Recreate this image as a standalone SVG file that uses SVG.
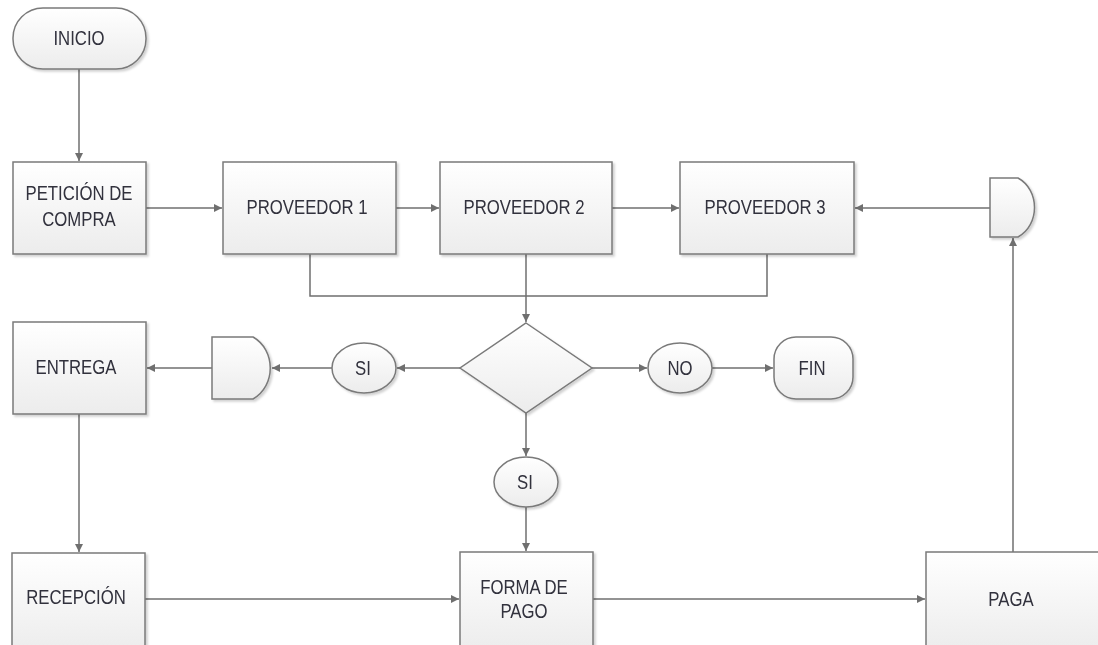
<svg xmlns="http://www.w3.org/2000/svg" width="1098" height="645" viewBox="0 0 1098 645">
<style>
.s{fill:url(#g);stroke:#7a7a7a;stroke-width:1.5}
.t{font-family:"Liberation Sans",Arial,sans-serif;font-size:19.5px;fill:#30303c;text-anchor:middle}
.c{fill:none;stroke:#6f6f6f;stroke-width:1.5}
</style>
<defs>
<linearGradient id="g" x1="0" y1="0" x2="0" y2="1">
<stop offset="0" stop-color="#ffffff"/>
<stop offset="1" stop-color="#ececec"/>
</linearGradient>
<marker id="a" viewBox="0 0 10 10" refX="10" refY="5" markerWidth="8" markerHeight="8" markerUnits="userSpaceOnUse" orient="auto">
<path d="M0,0 L10,5 L0,10 Z" fill="#6f6f6f"/>
</marker>
<filter id="sh" x="-10%" y="-10%" width="130%" height="130%">
<feDropShadow dx="2" dy="2" stdDeviation="1.2" flood-color="#000" flood-opacity="0.18"/>
</filter>
</defs>
<rect width="1098" height="645" fill="#ffffff"/>
<g id="connectors">
<path class="c" d="M79,69 V161" marker-end="url(#a)"/>
<path class="c" d="M146,208 H222" marker-end="url(#a)"/>
<path class="c" d="M396,208 H439" marker-end="url(#a)"/>
<path class="c" d="M612,208 H679" marker-end="url(#a)"/>
<path class="c" d="M990,208 H855" marker-end="url(#a)"/>
<path class="c" d="M310,254 V296 H767 V254"/>
<path class="c" d="M526,254 V322" marker-end="url(#a)"/>
<path class="c" d="M460,368 H397" marker-end="url(#a)"/>
<path class="c" d="M332,368 H272" marker-end="url(#a)"/>
<path class="c" d="M212,368 H147" marker-end="url(#a)"/>
<path class="c" d="M592,368 H647" marker-end="url(#a)"/>
<path class="c" d="M712,368 H773" marker-end="url(#a)"/>
<path class="c" d="M526,413 V456" marker-end="url(#a)"/>
<path class="c" d="M526,507 V551" marker-end="url(#a)"/>
<path class="c" d="M79,414 V552" marker-end="url(#a)"/>
<path class="c" d="M145,599 H459" marker-end="url(#a)"/>
<path class="c" d="M593,599 H925" marker-end="url(#a)"/>
<path class="c" d="M1013,552 V238" marker-end="url(#a)"/>
</g>
<g id="inicio" filter="url(#sh)">
<rect class="s" x="13" y="8" width="133" height="61" rx="30" ry="30"/>
<text class="t" transform="translate(79,45) scale(0.86,1)">INICIO</text>
</g>
<g id="peticion" filter="url(#sh)">
<rect class="s" x="13" y="162" width="133" height="92"/>
<text class="t" transform="translate(79,200) scale(0.86,1)">PETICIÓN DE</text>
<text class="t" transform="translate(79,226) scale(0.86,1)">COMPRA</text>
</g>
<g id="proveedor1" filter="url(#sh)">
<rect class="s" x="223" y="162" width="173" height="92"/>
<text class="t" transform="translate(307,214) scale(0.86,1)">PROVEEDOR 1</text>
</g>
<g id="proveedor2" filter="url(#sh)">
<rect class="s" x="440" y="162" width="172" height="92"/>
<text class="t" transform="translate(524,214) scale(0.86,1)">PROVEEDOR 2</text>
</g>
<g id="proveedor3" filter="url(#sh)">
<rect class="s" x="680" y="162" width="174" height="92"/>
<text class="t" transform="translate(765,214) scale(0.86,1)">PROVEEDOR 3</text>
</g>
<g id="gate-right" filter="url(#sh)">
<path class="s" d="M990,178 H1018 C1040,190 1040,225 1018,237 H990 Z"/>
</g>
<g id="decision" filter="url(#sh)">
<path class="s" d="M526,323 L592,368 L526,413 L460,368 Z"/>
</g>
<g id="si-left" filter="url(#sh)">
<ellipse class="s" cx="364" cy="368" rx="32" ry="25"/>
<text class="t" transform="translate(363,375) scale(0.86,1)">SI</text>
</g>
<g id="gate-left" filter="url(#sh)">
<path class="s" d="M212,337 H253 C276,350 276,386 253,399 H212 Z"/>
</g>
<g id="entrega" filter="url(#sh)">
<rect class="s" x="13" y="322" width="133" height="92"/>
<text class="t" transform="translate(76,374) scale(0.86,1)">ENTREGA</text>
</g>
<g id="no" filter="url(#sh)">
<ellipse class="s" cx="680" cy="368" rx="32" ry="25"/>
<text class="t" transform="translate(680,375) scale(0.86,1)">NO</text>
</g>
<g id="fin" filter="url(#sh)">
<rect class="s" x="774" y="337" width="79" height="62" rx="22" ry="22"/>
<text class="t" transform="translate(812,375) scale(0.86,1)">FIN</text>
</g>
<g id="si-bottom" filter="url(#sh)">
<ellipse class="s" cx="526" cy="482" rx="32" ry="25"/>
<text class="t" transform="translate(525,489) scale(0.86,1)">SI</text>
</g>
<g id="recepcion" filter="url(#sh)">
<rect class="s" x="12" y="553" width="133" height="100"/>
<text class="t" transform="translate(76,604) scale(0.86,1)">RECEPCIÓN</text>
</g>
<g id="forma-pago" filter="url(#sh)">
<rect class="s" x="460" y="552" width="133" height="100"/>
<text class="t" transform="translate(524,594) scale(0.86,1)">FORMA DE</text>
<text class="t" transform="translate(524,618) scale(0.86,1)">PAGO</text>
</g>
<g id="paga" filter="url(#sh)">
<rect class="s" x="926" y="552" width="180" height="100"/>
<text class="t" transform="translate(1011,606) scale(0.86,1)">PAGA</text>
</g>
</svg>
